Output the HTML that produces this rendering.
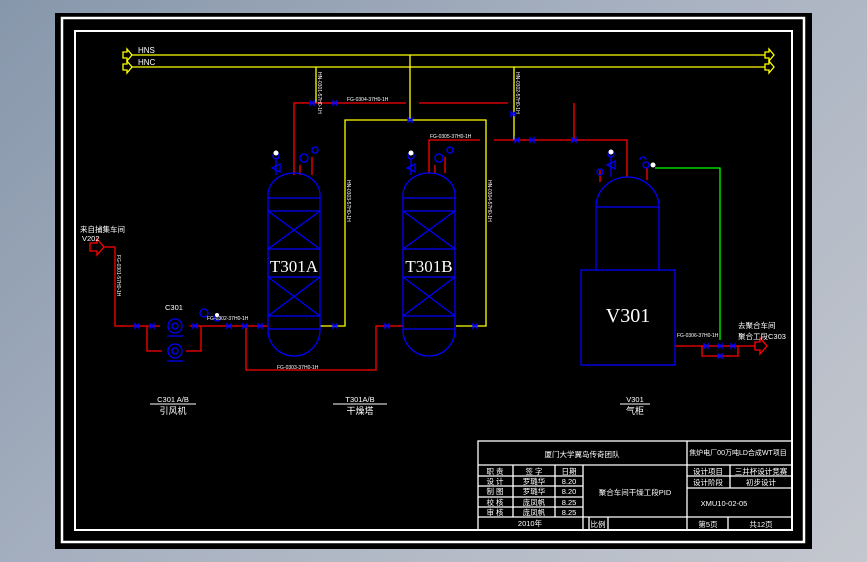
<!DOCTYPE html>
<html><head><meta charset="utf-8"><style>
html,body{margin:0;padding:0;width:867px;height:562px;overflow:hidden;background:linear-gradient(135deg,#8797ab 0%,#aab3c2 50%,#c4c7ce 100%);}
svg{position:absolute;left:0;top:0;}
text{font-family:"Liberation Sans","Noto Sans CJK SC",sans-serif;fill:#fff;}
</style></head><body>
<svg width="867" height="562" viewBox="0 0 867 562">
<rect x="55" y="13" width="757" height="536" fill="#000"/>
<rect x="62" y="18" width="742" height="524" fill="none" stroke="#fff" stroke-width="2.5"/>
<rect x="75" y="31" width="717" height="499" fill="none" stroke="#fff" stroke-width="2"/>

<g stroke="#ff0" stroke-width="1.3" fill="none">
<line x1="131" y1="55" x2="765" y2="55"/>
<line x1="131" y1="67" x2="765" y2="67"/>
<path d="M123 52h4v-3l5 6-5 6v-3h-4z"/>
<path d="M123 64h4v-3l5 6-5 6v-3h-4z"/>
<path d="M765 52h4v-3l5 6-5 6v-3h-4z"/>
<path d="M765 64h4v-3l5 6-5 6v-3h-4z"/>
<line x1="410" y1="55" x2="410" y2="120"/>
<path d="M320 326H345V120H486V326H456"/>
<line x1="316" y1="67" x2="316" y2="103"/>
<line x1="514" y1="67" x2="514" y2="140"/>
</g>
<text x="138" y="53" font-size="8">HNS</text>
<text x="138" y="65" font-size="8">HNC</text>

<g stroke="#f00" stroke-width="1.3" fill="none">
<path d="M294 175V103H406"/><path d="M419 103H508"/>
<path d="M574 103V140"/>
<path d="M429 173V140H480"/><path d="M494 140H627V177"/>
<path d="M104 247H115V326H160"/>
<path d="M147 326V351H162"/><path d="M186 351H201V326"/>
<path d="M190 326H268"/>
<path d="M246 326V370H376V326H403"/>
<path d="M675 346H755"/><path d="M702 346V356H738V346"/>
<path d="M90 243h7v-4l7 8-7 8v-4h-7z"/>
<path d="M755 342h5v-4l7 8-7 8v-4h-5z"/>
<path d="M300 165V175M312 157V175M435 165V173M445 157V173M600 182V170M647 168V180"/>
</g>
<path d="M655 168H720V340" stroke="#0f0" stroke-width="1.3" fill="none"/>

<g stroke="#00f" stroke-width="1.3" fill="none">
<path d="M268 195A26 22 0 0 1 320 195V330A26 26 0 0 1 268 330Z"/>
<path d="M268 198H320M268 211H320M268 249H320M268 277H320M268 316H320M268 329H320M268 211L320 249M320 211L268 249M268 277L320 316M320 277L268 316"/>
<path d="M403 195A26 22 0 0 1 455 195V330A26 26 0 0 1 403 330Z"/>
<path d="M403 198H455M403 211H455M403 249H455M403 277H455M403 316H455M403 329H455M403 211L455 249M455 211L403 249M403 277L455 316M455 277L403 316"/>
<path d="M596 207A31.5 30 0 0 1 659 207V270M596 207V270M596 207H659"/>
<rect x="581" y="270" width="94" height="95"/>
<circle cx="175" cy="326" r="7"/><circle cx="175" cy="326" r="3"/>
<circle cx="175" cy="351" r="7"/><circle cx="175" cy="351" r="3"/>
<path d="M167 336h16M167 361h16"/>
<circle cx="204" cy="313" r="4"/><circle cx="217" cy="318" r="3"/>
<circle cx="276" cy="156" r="3"/><path d="M276 159v16M272 168l8-4v8zM300 158a4 4 0 1 1 0 .1M312 150a3 3 0 1 1 0 .1"/>
<circle cx="411" cy="156" r="3"/><path d="M411 159v16M407 168l8-4v8zM435 158a4 4 0 1 1 0 .1M447 150a3 3 0 1 1 0 .1"/>
<circle cx="611" cy="154" r="3"/><path d="M611 157v20M607 165l8-4v8z"/><circle cx="600" cy="172" r="3"/><circle cx="646" cy="165" r="3"/><path d="M640 160a3 3 0 0 1 6 0"/>
<path d="M310 101l4 4v-4l-4 4zM333 101l4 4v-4l-4 4zM408 118l4 4v-4l-4 4zM511 112l4 4v-4l-4 4zM515 138l4 4v-4l-4 4zM530 138l4 4v-4l-4 4zM572 138l4 4v-4l-4 4z"/>
<path d="M135 324l4 4v-4l-4 4zM150 324l4 4v-4l-4 4zM193 324l4 4v-4l-4 4zM227 324l4 4v-4l-4 4zM243 324l4 4v-4l-4 4zM258 324l4 4v-4l-4 4zM385 324l4 4v-4l-4 4zM333 324l4 4v-4l-4 4zM473 324l4 4v-4l-4 4zM704 344l4 4v-4l-4 4zM718 344l4 4v-4l-4 4zM731 344l4 4v-4l-4 4zM718 354l4 4v-4l-4 4z"/>
</g>
<g fill="#fff" stroke="none">
<circle cx="276" cy="153" r="2.5"/><circle cx="411" cy="153" r="2.5"/><circle cx="611" cy="152" r="2.5"/><circle cx="217" cy="315" r="2"/><circle cx="653" cy="165" r="2.5"/>
</g>

<text x="294" y="272" text-anchor="middle" style="font-family:'Liberation Serif',serif;font-size:17px">T301A</text>
<text x="429" y="272" text-anchor="middle" style="font-family:'Liberation Serif',serif;font-size:17px">T301B</text>
<text x="628" y="322" text-anchor="middle" style="font-family:'Liberation Serif',serif;font-size:20px">V301</text>

<g font-size="5">
<text x="347" y="101">FG-0304-37H0-1H</text>
<text x="430" y="138">FG-0305-37H0-1H</text>
<text x="207" y="320">FG-0302-37H0-1H</text>
<text x="277" y="369">FG-0303-37H0-1H</text>
<text x="677" y="337">FG-0306-37H0-1H</text>
<text transform="translate(318,72) rotate(90)">HN-0301-57H0-1H</text>
<text transform="translate(516,72) rotate(90)">HN-0302-57H0-1H</text>
<text transform="translate(347,180) rotate(90)">HN-0303-57H0-1H</text>
<text transform="translate(488,180) rotate(90)">HN-0304-57H0-1H</text>
<text transform="translate(117,255) rotate(90)">FG-0301-57H0-1H</text>
</g>
<g font-size="7.5">
<text x="80" y="232">来自捕集车间</text>
<text x="82" y="241">V202</text>
<text x="165" y="310">C301</text>
<text x="738" y="328">去聚合车间</text>
<text x="738" y="339">聚合工段C303</text>
<text x="173" y="402" text-anchor="middle">C301 A/B</text>
<text x="173" y="414" text-anchor="middle" font-size="9">引风机</text>
<text x="360" y="402" text-anchor="middle">T301A/B</text>
<text x="360" y="414" text-anchor="middle" font-size="9">干燥塔</text>
<text x="635" y="402" text-anchor="middle">V301</text>
<text x="635" y="414" text-anchor="middle" font-size="9">气柜</text>
</g>
<g stroke="#fff" stroke-width="1"><line x1="150" y1="404" x2="196" y2="404"/><line x1="333" y1="404" x2="387" y2="404"/><line x1="620" y1="404" x2="650" y2="404"/></g>

<g stroke="#fff" stroke-width="1.3" fill="none">
<rect x="478" y="441" width="314" height="89"/>
<path d="M687 441V530M478 465H792M478 476H583M478 486H583M478 497H583M478 507H583M478 517H792M513 465V517M555 465V517M583 465V530M589 517V530M608 517V530M687 476H792M687 488H792M730 465V488M728 517V530"/>
</g>
<g font-size="7.5" text-anchor="middle">
<text x="582" y="457">厦门大学翼岛传奇团队</text>
<text x="738" y="455" font-size="7">焦炉电厂00万吨LD合成WT项目</text>
<text x="495" y="474">职 责</text><text x="534" y="474">签 字</text><text x="569" y="474">日期</text>
<text x="495" y="484">设 计</text><text x="534" y="484">罗璐华</text><text x="569" y="484">8.20</text>
<text x="495" y="494">制 图</text><text x="534" y="494">罗璐华</text><text x="569" y="494">8.20</text>
<text x="495" y="505">校 核</text><text x="534" y="505">庞凤帆</text><text x="569" y="505">8.25</text>
<text x="495" y="515">审 核</text><text x="534" y="515">庞凤帆</text><text x="569" y="515">8.25</text>
<text x="530" y="526">2010年</text><text x="598" y="527">比例</text>
<text x="635" y="495">聚合车间干燥工段PID</text>
<text x="708" y="474">设计项目</text><text x="761" y="474">三井杯设计竞赛</text>
<text x="708" y="485">设计阶段</text><text x="761" y="485">初步设计</text>
<text x="724" y="506">XMU10-02-05</text>
<text x="708" y="527">第5页</text><text x="761" y="527">共12页</text>
</g>
</svg>
</body></html>
